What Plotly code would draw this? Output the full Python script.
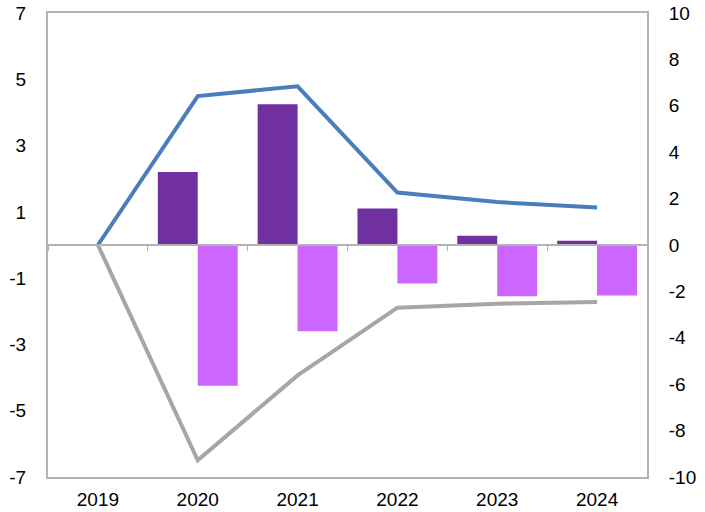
import plotly.graph_objects as go

years = ["2019", "2020", "2021", "2022", "2023", "2024"]

# bar series (left axis)
dark_bars = [0, 2.20, 4.25, 1.10, 0.28, 0.13]
light_bars = [0, -4.25, -2.60, -1.16, -1.55, -1.52]

# line series (right axis)
blue_line = [0, 6.42, 6.84, 2.26, 1.85, 1.62]
gray_line = [0, -9.28, -5.62, -2.70, -2.53, -2.46]

left_ticks = [7, 5, 3, 1, -1, -3, -5, -7]
right_ticks = [10, 8, 6, 4, 2, 0, -2, -4, -6, -8, -10]

axis_col = "#b4b4b4"
font = dict(family="Liberation Sans, Arial, sans-serif", size=19, color="#000000")

fig = go.Figure()
fig.add_trace(go.Bar(x=years, y=dark_bars, marker=dict(color="#7030A0", line=dict(width=0)),
                     xaxis="x", yaxis="y"))
fig.add_trace(go.Bar(x=years, y=light_bars, marker=dict(color="#CC66FF", line=dict(width=0)),
                     xaxis="x", yaxis="y"))
fig.add_trace(go.Scatter(x=years, y=gray_line, mode="lines",
                         line=dict(color="#A6A6A6", width=4),
                         xaxis="x2", yaxis="y2"))
fig.add_trace(go.Scatter(x=years, y=blue_line, mode="lines",
                         line=dict(color="#4A7EBB", width=4),
                         xaxis="x2", yaxis="y2"))

fig.update_layout(
    width=705, height=512,
    margin=dict(l=48, r=58, t=13, b=35, autoexpand=False),
    paper_bgcolor="white", plot_bgcolor="white",
    showlegend=False,
    barmode="group", bargap=0.2, bargroupgap=0,
    font=font,
    xaxis=dict(type="category", categoryarray=years, range=[-0.5, 5.5],
               showline=True, linecolor=axis_col, linewidth=2, mirror=True,
               ticks="", showgrid=False, zeroline=False, automargin=False,
               ticklabelstandoff=4, tickfont=font),
    xaxis2=dict(type="category", categoryarray=years, range=[-0.5, 5.5],
                overlaying="x", anchor="free", position=0.5,
                showline=True, linecolor=axis_col, linewidth=1.5,
                ticks="outside", tickson="boundaries", ticklen=5, tickwidth=1,
                tickcolor=axis_col, showticklabels=False, showgrid=False,
                zeroline=False, automargin=False),
    yaxis=dict(range=[-7, 7], tickvals=left_ticks, ticktext=[str(v) for v in left_ticks],
               showline=True, linecolor=axis_col, linewidth=2,
               ticks="", showgrid=False, zeroline=False, automargin=False,
               ticklabelstandoff=16, tickfont=font),
    yaxis2=dict(range=[-10, 10], tickvals=right_ticks, ticktext=[str(v) for v in right_ticks],
                overlaying="y", side="right", anchor="x",
                showline=True, linecolor=axis_col, linewidth=2,
                ticks="", showgrid=False, zeroline=False, automargin=False,
                ticklabelstandoff=16, tickfont=font),
)

fig.write_html("out.html")
